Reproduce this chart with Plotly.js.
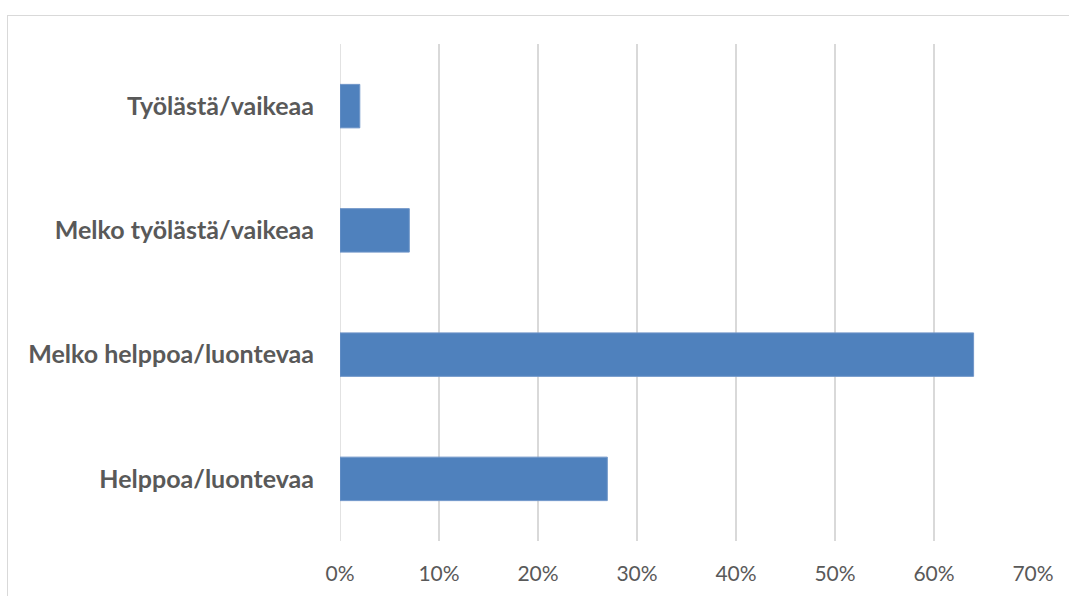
<!DOCTYPE html>
<html><head><meta charset="utf-8">
<script src="https://cdn.plot.ly/plotly-3.0.1.min.js"></script>
<style>
html,body{margin:0;padding:0;background:#fff;}
#frame{position:absolute;left:7px;top:15px;width:1200px;height:700px;border-left:1.5px solid #d9d9d9;border-top:1.5px solid #d9d9d9;}
#chart{position:absolute;left:0;top:0;width:1069px;height:596px;}
</style></head>
<body>
<div id="frame"></div>
<div id="chart"></div>
<script>
const categories = ["Helppoa/luontevaa", "Melko helppoa/luontevaa", "Melko työlästä/vaikeaa", "Työlästä/vaikeaa"];
const values = [0.27, 0.64, 0.07, 0.02];
const tickVals = [0, 0.1, 0.2, 0.3, 0.4, 0.5, 0.6, 0.7];
const tickText = ["0%", "10%", "20%", "30%", "40%", "50%", "60%", "70%"];

const trace = {
  type: 'bar', orientation: 'h',
  x: values, y: categories,
  marker: {color: '#4f81bd', line: {color: '#7096c9', width: 1}},
  hoverinfo: 'skip'
};
const layout = {
  width: 1069, height: 596,
  margin: {l: 340, r: 36, t: 44, b: 55},
  paper_bgcolor: 'rgba(0,0,0,0)', plot_bgcolor: 'rgba(0,0,0,0)',
  bargap: 0.65,
  showlegend: false,
  font: {family: 'Lato, sans-serif', color: '#595959'},
  xaxis: {
    range: [0, 0.7], tickvals: tickVals, ticktext: tickText,
    showgrid: true, gridcolor: '#d9d9d9', gridwidth: 1.5,
    zeroline: false, showline: false, ticks: '',
    tickfont: {size: 21, color: '#595959', family: 'Lato, sans-serif'},
    ticklabelstandoff: 18, fixedrange: true
  },
  yaxis: {
    categoryorder: 'array', categoryarray: categories,
    showgrid: false, zeroline: false, showline: false, ticks: '',
    tickfont: {size: 25, color: '#595959', family: 'Lato, sans-serif', weight: 'bold'},
    ticklabelstandoff: 25, fixedrange: true
  },
  shapes: [{type: 'line', xref: 'x', yref: 'paper', x0: 0, x1: 0, y0: 0, y1: 1, line: {color: '#d9d9d9', width: 1.5}, layer: 'below'}]
};
Plotly.newPlot('chart', [trace], layout, {displayModeBar: false, staticPlot: true});
</script>
</body></html>
